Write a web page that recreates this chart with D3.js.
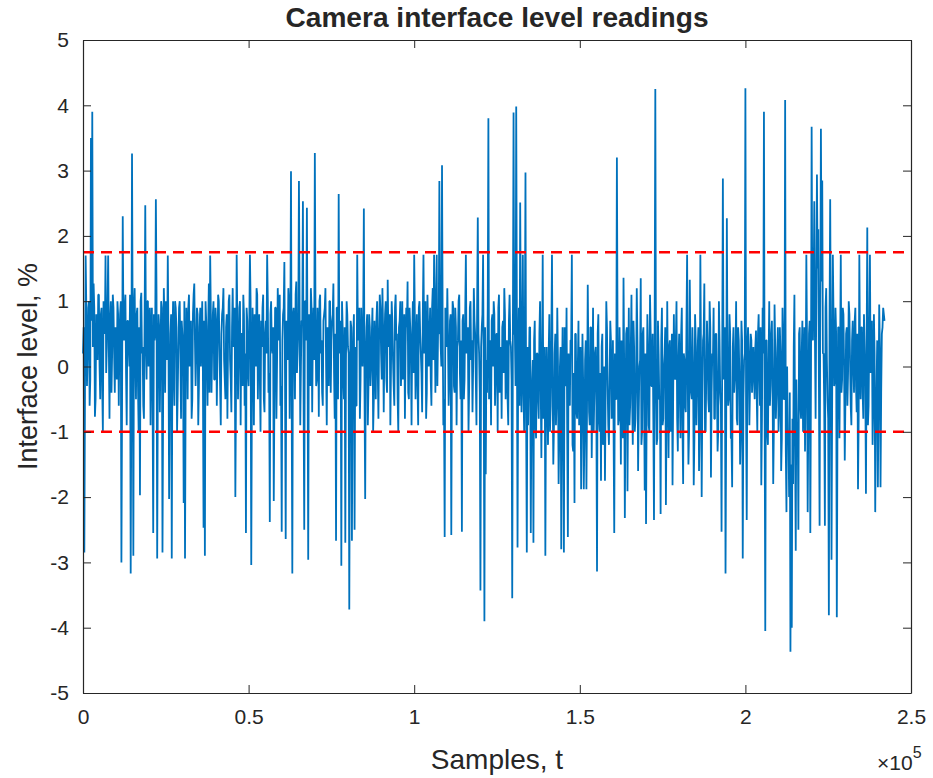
<!DOCTYPE html>
<html>
<head>
<meta charset="utf-8">
<script src="https://cdn.jsdelivr.net/npm/d3@7"></script>
<style>
  body { margin: 0; background: #fff; }
  text { font-family: "Liberation Sans", Arial, sans-serif; fill: #262626; }
</style>
</head>
<body>
<div id="chart"></div>
<script>
// readings in %, one every 200 samples, kept as two interleaved lists
var sampleStep = 400;
// samples 0, 400, 800, ...
var levelEven = [
  0.2, -2.85, 1.7, -0.3, 0.9, -0.6, 3.5, 3.9, 1.27, -0.77, 0.8, 0.1, 1.1, -0.5, 0.9, -1.0, 0.6, 1.7, 0.3, 1.7, -0.8, 1.0, 0.2, 0.9, -0.4,
  0.5, 1.0, -0.6, 0.8, -3.0, 2.3, 0.4, 1.1, -0.9, 0.7, 0.0, -3.17, 3.26, -2.9, 1.2, -0.5, 0.9, -1.0, -1.97, 1.13, 0.3, -0.8, 2.47, -0.2, 1.0,
  0.6, -0.9, 0.9, -2.55, 0.4, 2.56, -2.94, 0.8, -0.7, 1.0, -2.85, 1.2, -0.4, 0.7, 1.7, -2.03, 0.5, -2.94, 1.0, -0.6, 0.9, -1.0, 0.3, 1.0, -0.8,
  0.5, -2.09, -2.94, 0.9, -0.5, 1.1, 0.2, -0.8, 0.8, 1.27, -0.3, 0.9, -0.9, 0.6, 0.0, 1.0, -2.47, -2.9, 0.7, -0.6, 1.27, 1.7, -0.4, 0.8, -0.2,
  0.9, -0.6, 1.1, 0.3, -0.9, 0.8, 1.2, -0.2, 0.6, -0.8, 1.0, 0.1, -0.7, 1.2, 0.4, -2.0, 1.71, -0.5, 0.9, -0.9, 0.5, 1.1, -0.6, -2.55, 0.7,
  -0.3, 1.71, -3.04, 0.9, -0.9, 0.6, 1.2, -0.5, 0.8, -1.0, 0.3, 1.1, -0.7, 0.7, 1.71, -0.4, -2.38, 1.0, 0.2, -2.06, 0.9, -0.8, 1.2, 0.4, -0.6,
  -2.53, 0.8, 1.6, -2.64, 0.5, 1.2, -0.8, 2.99, -3.17, 0.9, -0.5, 1.3, 0.2, 2.84, -0.9, 0.7, 2.53, -2.5, 1.0, 2.43, -2.96, 0.6, 1.2, -0.7, 0.9,
  3.27, -0.3, 0.9, -0.77, 1.1, 0.4, -0.6, 0.8, 1.2, -0.9, 0.5, 1.0, -0.4, 0.7, 1.27, -0.8, -2.67, 0.9, 2.64, 0.2, -3.05, 0.6, -0.5, -2.7, 1.0,
  0.3, -3.72, 0.7, -2.67, 0.5, -2.5, -0.6, 1.71, 0.4, -0.8, 0.9, 0.0, 2.42, -2.03, 0.6, -0.9, 0.8, -0.3, 0.5, -1.0, 0.7, -0.5, 1.0, -0.8, 1.1,
  0.2, 1.2, -0.7, 0.8, -0.2, 1.33, 0.3, -0.9, 1.0, 0.1, -0.6, 1.1, 0.5, -1.0, 0.7, -0.3, 1.0, 0.2, -0.8, 0.9, 1.3, -0.5, 0.6, -0.9, 1.0,
  1.71, -0.5, 0.8, -0.9, 1.0, 0.2, -0.7, 1.71, 0.4, -0.8, 1.1, 0.0, 0.9, -0.6, 1.2, 1.71, -0.4, 1.71, 0.5, 2.84, 0.3, 3.08, -0.9, -2.61, 0.8,
  1.2, -0.6, 0.7, -2.58, 1.0, -0.3, 0.9, -0.9, 0.4, 1.1, -0.5, -2.53, 0.8, -0.2, 1.71, 0.3, -1.0, 0.9, 0.1, -0.7, 1.2, 0.5, -0.9, 2.28, 0.2,
  -3.43, 0.6, 1.71, -3.9, -1.65, -0.4, 3.8, 0.2, -0.9, 0.8, 1.0, -0.6, 0.5, -1.0, 1.1, 0.0, -0.8, 0.7, 1.2, -0.5, 0.4, -0.9, 1.1, 0.3, -3.55,
  3.89, 0.5, 3.98, -2.77, 0.9, 2.51, -0.7, 1.71, -1.0, 2.97, -2.85, -0.9, 0.6, -2.55, -0.2, -2.7, 0.7, -1.1, 0.2, -0.8, 1.0, -1.4, 1.71, -0.5, -2.9,
  0.3, -1.2, 0.8, -0.6, 1.71, -1.5, 0.2, -0.9, 0.9, -1.8, 0.0, -2.8, 0.6, -2.85, -0.3, 0.9, -2.61, -0.5, 0.4, 1.71, -1.3, -2.09, 0.5, -0.8, 0.7,
  -0.2, -1.88, 0.5, -1.88, 0.1, -1.88, 1.25, -0.7, 0.6, -1.4, 0.9, -0.4, 0.3, -3.14, 0.8, -1.0, -1.75, 0.5, -0.6, -1.75, 1.0, -0.3, -1.2, 0.7, -0.8,
  0.4, -2.55, -0.5, 3.2, -0.9, 0.6, -1.5, 0.2, 1.36, -2.32, 0.5, -1.91, 0.9, -0.6, 1.1, -1.2, 0.3, -0.8, 1.2, -1.6, 0.0, 1.35, -1.0, 0.6, -1.9,
  -2.41, 0.8, -0.9, 1.1, -0.3, 0.5, -2.35, 4.25, -1.2, 0.7, -0.5, -2.26, 0.9, -0.8, 0.2, -2.12, 1.0, -1.4, 0.4, -0.6, -1.82, 0.8, -0.2, 1.0, -1.3,
  0.5, -1.1, 0.9, -1.8, 0.1, -0.7, 1.71, -1.5, 1.33, -0.4, 0.6, -1.82, 0.8, -0.9, 0.3, -1.6, 1.71, -2.0, 0.4, 1.27, -1.0, 0.7, -0.5, 1.0, -1.7,
  0.2, 0.9, -0.8, 0.5, -1.3, 1.0, -0.4, -2.53, 2.88, 0.3, -3.17, 2.27, -0.6, 0.8, -1.1, -1.85, 0.6, -0.2, 1.0, -0.9, 0.4, -1.5, 0.7, -2.94, 0.1,
  4.26, -2.35, 0.6, -0.9, 0.5, -0.4, 0.3, -0.5, 0.55, -1.0, 0.8, -0.6, -1.82, 0.9, 3.9, -4.05, 0.4, -1.2, 1.0, -0.3, 0.7, -1.8, 0.95, -0.8, 0.2,
  -1.0, 0.6, -1.6, 0.9, -0.5, 4.08, -2.23, -1.2, -2.0, -4.37, -4.0, -1.8, 1.1, -2.82, -1.0, -2.5, 0.6, -0.8, 0.7, -0.2, -1.3, 1.71, -2.23, 0.5, -2.55,
  3.67, 0.4, 2.53, -0.8, 2.94, 2.1, -2.44, 3.64, 2.85, 0.2, -2.44, 1.2, -0.5, -3.81, 2.56, -2.96, 1.71, -0.3, 0.9, -3.84, 0.6, -1.1, 1.71, -0.2, 0.8,
  -1.44, 0.5, -0.6, 1.0, 0.1, -0.9, 0.7, -0.4, 0.9, -0.7, -1.88, 1.71, -0.5, 0.6, -0.8, 0.3, -1.95, 2.13, -0.6, 1.71, 0.0, -1.2, 0.8, -2.23, -0.3,
  -1.85, 0.95, -1.85, 0.5, 0.9, 0.7
];
// samples 200, 600, 1000, ...
var levelOdd = [
  0.6, -0.4, 0.9, 0.2, 1.0, -0.2, 0.7, 0.3, 0.9, -0.5, 0.4, 1.1, 0.0, 0.8, -0.3, 1.0, 0.5, -0.1, 0.9, 0.3, 0.7, -0.4, 1.1, 0.2, 0.6,
  -0.2, 0.8, 0.4, 1.0, -0.5, 0.6, 0.9, -0.1, 0.7, 0.3, 1.1, -0.4, 0.5, 0.9, 0.1, 0.8, -0.3, 0.6, 1.0, 0.2, -0.6, 0.7, 0.4, 1.0, 0.0,
  0.9, 0.3, -0.4, 0.8, 0.5, 1.1, -0.2, 0.6, 0.2, 0.9, -0.5, 0.7, 1.0, 0.1, 0.5, -0.3, 0.8, 0.4, -0.1, 1.0, 0.6, -0.4, 0.9, 0.2, 0.7,
  0.3, 1.0, -0.2, 0.6, 0.9, 0.0, 0.7, -0.5, 1.1, 0.4, 0.2, 0.8, -0.3, 0.9, 0.5, -0.1, 0.7, 1.0, 0.1, 0.6, -0.4, 0.8, 0.3, 1.0, -0.2,
  0.7, 0.2, 1.0, -0.3, 0.5, 0.9, 0.1, -0.5, 0.8, 0.4, 1.1, -0.2, 0.6, 0.3, 0.9, -0.4, 0.7, 0.1, 1.0, 0.5, -0.3, 0.8, 0.2, 0.9, -0.1,
  0.6, 1.0, -0.4, 0.3, 0.8, 0.0, 1.1, 0.4, -0.2, 0.7, 0.9, -0.5, 0.5, 0.2, 1.0, -0.1, 0.8, 0.3, 0.6, -0.4, 0.9, 0.1, 0.7, 1.1, -0.3,
  0.4, 0.9, -0.2, 0.7, 0.1, 1.0, 0.5, -0.4, 0.8, 0.3, 1.1, -0.1, 0.6, 0.9, 0.0, 0.7, -0.5, 1.0, 0.4, 0.2, 0.8, -0.3, 0.9, 0.5, 0.1,
  0.8, -0.2, 0.5, 1.0, 0.2, -0.4, 0.7, 0.9, 0.0, 0.6, -0.3, 1.0, 0.4, 0.8, -0.1, 0.5, 0.9, -0.5, 0.3, 0.7, 1.0, -0.2, 0.6, 0.1, 0.8,
  0.2, -0.5, 0.6, -0.1, 0.8, 0.3, -0.6, 0.5, 0.9, -0.2, 0.4, 0.7, -0.4, 0.2, 0.8, -0.3, 0.6, 0.0, 0.9, -0.5, 0.3, 0.7, -0.1, 0.5, 0.9,
  -0.2, 0.6, 0.3, 1.0, -0.4, 0.5, 0.8, 0.0, 0.7, -0.3, 0.9, 0.4, -0.5, 0.6, 1.0, 0.1, -0.2, 0.8, 0.3, 0.6, -0.4, 0.9, 0.2, 0.5, -0.1,
  0.7, 0.3, -0.3, 0.9, 0.5, -0.1, 0.8, 0.2, 1.0, -0.4, 0.6, 0.4, -0.2, 0.9, 0.1, 0.7, 1.0, -0.3, 0.5, 0.8, 0.0, 0.6, -0.5, 0.9, 0.3,
  0.5, -0.2, 0.8, 0.1, 0.9, -0.4, 0.6, 0.3, 1.0, -0.1, 0.4, 0.7, -0.5, 0.8, 0.2, 0.6, -0.3, 1.0, 0.4, 0.0, 0.7, -0.2, 0.9, 0.5, -0.4,
  0.3, 0.8, -0.3, 0.6, 0.1, 0.9, -0.5, 0.4, 0.7, 0.0, 0.8, -0.2, 0.5, 0.9, -0.4, 0.3, 0.6, -0.1, 0.8, 0.2, -0.5, 0.7, 0.4, -0.2, 0.6,
  0.5, -0.3, 0.8, 0.1, -0.6, 0.6, 0.2, -0.4, 0.5, -0.8, 0.3, -0.2, 0.6, -0.7, 0.1, 0.4, -0.9, 0.2, -0.5, 0.5, -0.3, 0.0, -0.8, 0.3, -0.4,
  -0.6, 0.2, -1.0, 0.4, -0.3, -0.9, 0.5, -0.5, 0.1, -1.1, 0.3, -0.4, -0.8, 0.6, -0.2, -1.0, 0.2, -0.6, 0.4, -1.2, -0.1, 0.5, -0.7, 0.0, -0.9,
  0.3, -0.7, -0.2, -1.1, 0.4, -0.5, 0.1, -0.9, 0.6, -0.3, -1.0, 0.2, -0.6, 0.5, -0.8, -0.1, 0.3, -1.2, 0.0, -0.4, 0.6, -0.9, -0.2, 0.4, -0.6,
  -1.0, 0.2, -0.5, 0.5, -0.8, -0.1, 0.4, -1.1, 0.0, -0.6, 0.6, -0.3, -0.9, 0.3, -0.5, 0.7, -1.0, -0.2, 0.4, -0.7, 0.1, -1.2, 0.5, -0.4, 0.2,
  -0.6, 0.3, -1.0, 0.5, -0.3, -0.8, 0.6, -0.2, -1.1, 0.2, -0.5, 0.4, -0.9, 0.0, 0.6, -0.7, -0.2, 0.3, -1.0, 0.5, -0.4, -0.1, 0.4, -0.8, 0.1,
  -0.4, 0.5, -0.9, 0.2, -0.6, 0.6, -0.2, -1.0, 0.3, -0.5, 0.0, -1.1, 0.4, -0.3, 0.6, -0.8, 0.1, -0.5, 0.5, -1.0, -0.1, 0.3, -0.7, 0.6, -0.4,
  0.1, -0.8, 0.5, -0.3, -1.0, 0.4, -0.6, 0.2, -0.2, 0.6, -0.9, 0.0, -0.5, 0.5, -1.1, 0.3, -0.4, 0.1, -0.8, 0.6, -0.2, -1.0, 0.4, -0.5, 0.2,
  -0.6, 0.3, 0.2, -0.3, 0.4, 0.0, -0.2, 0.3, -0.4, 0.5, -0.1, 0.6, -0.8, 0.2, -0.5, 0.4, -1.0, 0.1, -0.6, 0.5, -0.3, -0.9, 0.3, -0.4, 0.6,
  -0.7, 0.2, -1.1, 0.4, -0.5, -1.3, 0.0, -1.0, -0.4, -1.5, -0.8, 0.3, -1.2, -0.2, -0.9, 0.5, -0.6, 0.2, -1.0, 0.6, -0.3, 0.4, -0.8, 0.7, -0.2,
  0.9, 1.2, 0.4, 1.0, 1.5, -0.3, 0.8, 1.3, 0.2, -0.6, 0.9, 0.1, -0.8, 0.7, 0.3, -0.5, 0.8, -0.2, 0.5, -0.9, 0.6, 0.2, -0.4, 0.9, 0.0,
  -0.5, 0.6, -0.1, 0.8, -0.6, 0.4, 0.0, 0.7, -0.3, 0.5, -0.8, 0.2, 0.6, -0.4, 0.8, -0.2, 0.3, -0.9, 0.5, -0.1, 0.7, -0.6, 0.2, -0.8, 0.4,
  -0.5, 0.3, -0.4, 0.6, 0.8
];
var thresholds = [1.75, -1.0];
var xTicks = [0, 50000, 100000, 150000, 200000, 250000];
var xTickLabels = ["0", "0.5", "1", "1.5", "2", "2.5"];
var yTicks = [-5, -4, -3, -2, -1, 0, 1, 2, 3, 4, 5];

// merge the two lists into one time ordered series
var series = [];
levelEven.forEach(function(v, i) {
  series.push({t: i * sampleStep, v: v});
  if (i < levelOdd.length) series.push({t: i * sampleStep + sampleStep / 2, v: levelOdd[i]});
});

var W = 933, H = 778;
var margin = {top: 40, right: 22, bottom: 85, left: 83};
var width = W - margin.left - margin.right,
    height = H - margin.top - margin.bottom;

var svg = d3.select("#chart").append("svg")
    .attr("width", W)
    .attr("height", H);
var g = svg.append("g")
    .attr("transform", "translate(" + margin.left + "," + margin.top + ")");

var x = d3.scaleLinear().domain([0, 250000]).range([0, width]);
var y = d3.scaleLinear().domain([-5, 5]).range([height, 0]);

var line = d3.line()
    .x(function(d) { return x(d.t); })
    .y(function(d) { return y(d.v); });

g.append("path")
    .datum(series)
    .attr("fill", "none")
    .attr("stroke", "#0072BD")
    .attr("stroke-width", 1.8)
    .attr("stroke-linejoin", "bevel")
    .attr("d", line);

g.selectAll("line.thr")
    .data(thresholds)
    .enter().append("line")
    .attr("class", "thr")
    .attr("x1", 0).attr("x2", width)
    .attr("y1", function(d) { return y(d); })
    .attr("y2", function(d) { return y(d); })
    .attr("stroke", "#FF0000")
    .attr("stroke-width", 2.5)
    .attr("stroke-dasharray", "11,7");

// axes, ticks pointing inward like matlab
var tickLen = 8;
var xBottom = g.append("g").attr("transform", "translate(0," + height + ")")
    .call(d3.axisBottom(x).tickValues(xTicks).tickSizeInner(-tickLen).tickSizeOuter(0)
      .tickFormat(function(d, i) { return xTickLabels[i]; }).tickPadding(16));
var xTop = g.append("g")
    .call(d3.axisTop(x).tickValues(xTicks).tickSizeInner(-tickLen).tickSizeOuter(0).tickFormat(""));
var yLeft = g.append("g")
    .call(d3.axisLeft(y).tickValues(yTicks).tickSizeInner(-tickLen).tickSizeOuter(0).tickPadding(14)
      .tickFormat(function(d) { return String(d); }));
var yRight = g.append("g").attr("transform", "translate(" + width + ",0)")
    .call(d3.axisRight(y).tickValues(yTicks).tickSizeInner(-tickLen).tickSizeOuter(0).tickFormat(""));

[xBottom, xTop, yLeft, yRight].forEach(function(a) {
  a.select(".domain").attr("stroke", "#262626").attr("stroke-width", 1.2);
  a.selectAll(".tick line").attr("stroke", "#262626");
  a.selectAll("text").attr("font-size", "21px").attr("fill", "#262626")
    .attr("font-family", "Liberation Sans, Arial, sans-serif");
});

svg.append("text")
    .attr("x", margin.left + width / 2)
    .attr("y", 27)
    .attr("text-anchor", "middle")
    .attr("font-size", "27px")
    .attr("font-weight", "bold")
    .attr("fill", "#000")
    .attr("textLength", 423)
    .attr("lengthAdjust", "spacingAndGlyphs")
    .text("Camera interface level readings");

svg.append("text")
    .attr("x", margin.left + width / 2)
    .attr("y", 769)
    .attr("text-anchor", "middle")
    .attr("font-size", "28px")
    .text("Samples, t");

svg.append("text")
    .attr("transform", "translate(37," + (margin.top + height / 2) + ") rotate(-90)")
    .attr("text-anchor", "middle")
    .attr("font-size", "27px")
    .text("Interface level, %");

var mult = svg.append("text")
    .attr("x", 877)
    .attr("y", 770)
    .attr("font-size", "21px");
mult.append("tspan").text("\u00d710");
mult.append("tspan").attr("dy", -12).attr("font-size", "16px").text("5");
</script>
</body>
</html>
